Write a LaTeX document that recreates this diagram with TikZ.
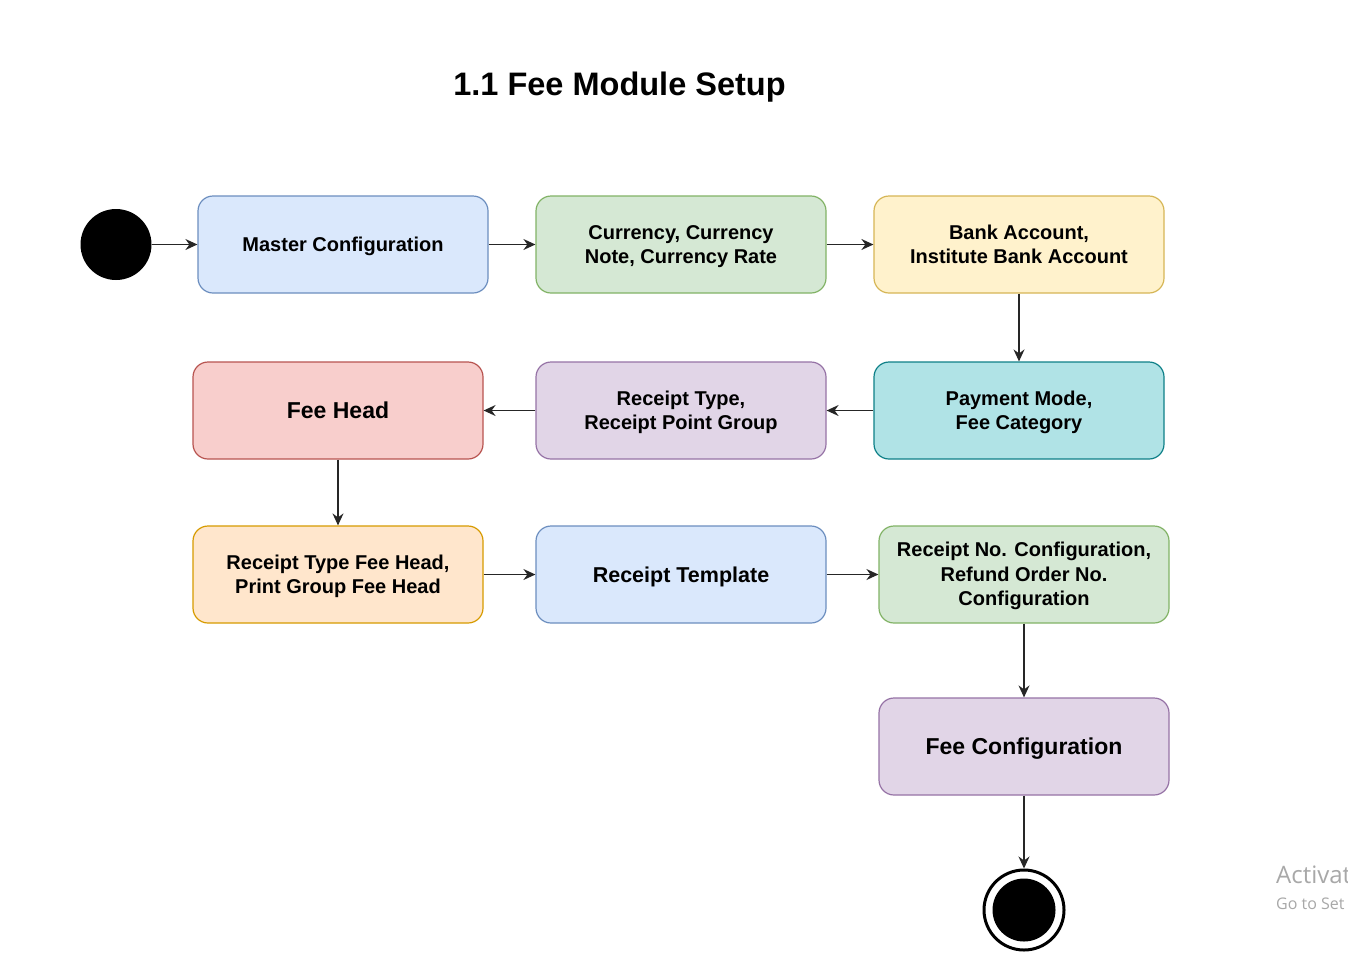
\documentclass[tikz,border=0pt]{standalone}
\usepackage{fontspec}
\setmainfont{Liberation Sans}
\newfontfamily\wmfont{Open Sans}
\usetikzlibrary{arrows.meta}
\definecolor{blueF}{HTML}{DAE8FC}\definecolor{blueD}{HTML}{6C8EBF}
\definecolor{greenF}{HTML}{D5E8D4}\definecolor{greenD}{HTML}{82B366}
\definecolor{yellowF}{HTML}{FFF2CC}\definecolor{yellowD}{HTML}{D6B656}
\definecolor{tealF}{HTML}{B0E3E6}\definecolor{tealD}{HTML}{0E8088}
\definecolor{purpleF}{HTML}{E1D5E7}\definecolor{purpleD}{HTML}{9673A6}
\definecolor{redF}{HTML}{F8CECC}\definecolor{redD}{HTML}{B85450}
\definecolor{orangeF}{HTML}{FFE6CC}\definecolor{orangeD}{HTML}{D79B00}
\definecolor{wmgray}{HTML}{A8A8A8}
\begin{document}
\begin{tikzpicture}[x=1pt,y=-1pt,
  box/.style={draw, rounded corners=15pt, minimum width=290pt, minimum height=97pt,
    align=center, inner sep=0pt, line width=1.2pt,
    font=\bfseries\fontsize{20}{24.5}\selectfont, text height=19.2pt, text depth=5.3pt},
  two/.style={text height=43.7pt},
  three/.style={text height=68.2pt},
  big/.style={font=\bfseries\fontsize{23}{27.6}\selectfont, text height=21.8pt, text depth=5.8pt},
  arr/.style={-{Stealth[length=12pt,width=11pt,inset=4pt]}, line width=1.3pt, draw=black!85}
]
\useasboundingbox[fill=white] (0,0) rectangle (1348,975);

\node[font=\bfseries\fontsize{32.5}{38}\selectfont] (title) at (619.5,87) {1.1 Fee Module Setup};

\node[circle, fill=black, minimum size=71pt, inner sep=0pt] (start) at (116,244.5) {};

\node[box, fill=blueF, draw=blueD] (mc) at (343,244.5) {Master Configuration};
\node[box, two, fill=greenF, draw=greenD] (cur) at (681,244.5) {Currency, Currency\\Note, Currency Rate};
\node[box, two, fill=yellowF, draw=yellowD] (bank) at (1019,244.5) {Bank Account,\\Institute Bank Account};

\node[box, two, fill=tealF, draw=tealD] (pay) at (1019,410.5) {Payment Mode,\\Fee Category};
\node[box, two, fill=purpleF, draw=purpleD] (rt) at (681,410.5) {Receipt Type,\\Receipt Point Group};
\node[box, big, fill=redF, draw=redD] (fh) at (338,410.5) {Fee Head};

\node[box, two, fill=orangeF, draw=orangeD] (rtfh) at (338,574.5) {Receipt Type Fee Head,\\Print Group Fee Head};
\node[box, fill=blueF, draw=blueD, font=\bfseries\fontsize{21.5}{26}\selectfont, text height=20.5pt, text depth=5.5pt] (tmpl) at (681,574.5) {Receipt Template};
\node[box, three, fill=greenF, draw=greenD] (rno) at (1024,574.5) {Receipt No. Configuration,\\Refund Order No.\\Configuration};

\node[box, big, fill=purpleF, draw=purpleD] (fc) at (1024,746.5) {Fee Configuration};

\node[circle, draw=black, line width=3pt, minimum size=80pt, inner sep=0pt] (end) at (1024,910) {};
\node[circle, fill=black, minimum size=63pt, inner sep=0pt] (endin) at (end.center) {};

\draw[arr] (start) -- (mc);
\draw[arr] (mc) -- (cur);
\draw[arr] (cur) -- (bank);
\draw[arr] (bank) -- (pay);
\draw[arr] (pay) -- (rt);
\draw[arr] (rt) -- (fh);
\draw[arr] (fh) -- (rtfh);
\draw[arr] (rtfh) -- (tmpl);
\draw[arr] (tmpl) -- (rno);
\draw[arr] (rno) -- (fc);
\draw[arr] (fc) -- (end);

\node[anchor=base west, inner sep=0pt, text=wmgray, font=\wmfont\fontsize{24}{28}\selectfont] (wm1) at (1276,883) {Activat};
\node[anchor=base west, inner sep=0pt, text=wmgray, font=\wmfont\fontsize{16}{20}\selectfont] (wm2) at (1276,909) {Go to Set};
\end{tikzpicture}
\end{document}
